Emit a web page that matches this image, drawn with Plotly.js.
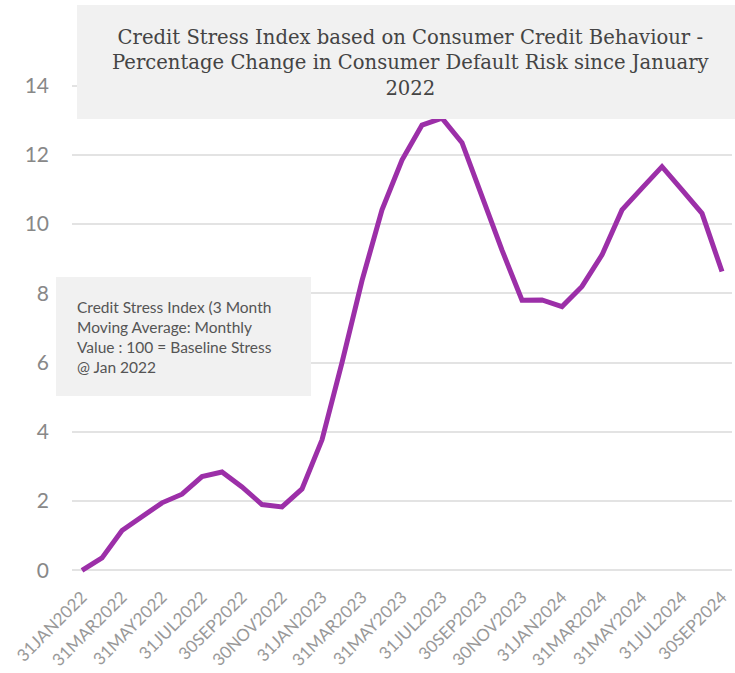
<!DOCTYPE html>
<html>
<head>
<meta charset="utf-8">
<script src="https://cdn.plot.ly/plotly-3.0.1.min.js"></script>
<style>html,body{margin:0;padding:0;background:#fff;}#chart{width:735px;height:673px;}</style>
</head>
<body>
<div id="chart"></div>
<script>
const months = ["31JAN2022","28FEB2022","31MAR2022","30APR2022","31MAY2022","30JUN2022","31JUL2022","31AUG2022","30SEP2022","31OCT2022","30NOV2022","31DEC2022",
"31JAN2023","28FEB2023","31MAR2023","30APR2023","31MAY2023","30JUN2023","31JUL2023","31AUG2023","30SEP2023","31OCT2023","30NOV2023","31DEC2023",
"31JAN2024","29FEB2024","31MAR2024","30APR2024","31MAY2024","30JUN2024","31JUL2024","31AUG2024","30SEP2024"];
const stressChange = [0, 0.36, 1.15, 1.56, 1.95, 2.2, 2.71, 2.84, 2.41, 1.9, 1.83, 2.35,
3.77, 6.0, 8.37, 10.41, 11.85, 12.86, 13.06, 12.35, 10.75, 9.25, 7.8, 7.81,
7.62, 8.2, 9.11, 10.41, 11.04, 11.66, 10.99, 10.31, 8.63];
const tickLabels = ["31JAN2022","31MAR2022","31MAY2022","31JUL2022","30SEP2022","30NOV2022","31JAN2023","31MAR2023","31MAY2023","31JUL2023","30SEP2023","30NOV2023","31JAN2024","31MAR2024","31MAY2024","31JUL2024","30SEP2024"];
const yTicks = [0,2,4,6,8,10,12,14];
const titleText = "Credit Stress Index based on Consumer Credit Behaviour -<br>Percentage Change in Consumer Default Risk since January<br>2022";
const legendText = "Credit Stress Index (3 Month<br>Moving Average: Monthly<br>Value : 100 = Baseline Stress<br>@ Jan 2022";

const idx = months.map((m,i)=>i);
const tickIdx = tickLabels.map(t=>months.indexOf(t));

const L=72, W=660, T=51, H=528;
const px = x => (x-L)/W;
const py = y => (T+H-y)/H;

const trace = {
  x: idx, y: stressChange, type:'scatter', mode:'lines',
  line:{color:'#9c2fa8', width:5}, hoverinfo:'skip', cliponaxis:false
};
const layout = {
  width:735, height:673,
  margin:{l:L, r:735-L-W, t:T, b:673-T-H},
  paper_bgcolor:'#fff', plot_bgcolor:'#fff',
  showlegend:false,
  font:{family:'Lato, "Open Sans", sans-serif'},
  xaxis:{range:[-0.5,32.5], tickvals:tickIdx, ticktext:tickLabels, tickangle:-45,
    showgrid:false, zeroline:false, showline:false, ticks:'', ticklabelstandoff:4,
    tickfont:{size:17, color:'#999', family:'Lato, sans-serif'}},
  yaxis:{range:[-0.25,15], tickvals:yTicks, showgrid:true, gridcolor:'#e3e3e3', gridwidth:2,
    zeroline:false, showline:false, ticks:'', ticklabelstandoff:22,
    tickfont:{size:21, color:'#888', family:'Lato, sans-serif'}},
  shapes:[
    {type:'rect', xref:'paper', yref:'paper', x0:px(77), x1:px(745), y0:py(5), y1:py(119),
     fillcolor:'#f1f1f1', line:{width:0}, layer:'above'},
    {type:'rect', xref:'paper', yref:'paper', x0:px(56), x1:px(311), y0:py(277), y1:py(396),
     fillcolor:'#f1f1f1', line:{width:0}, layer:'above'}
  ],
  annotations:[
    {xref:'paper', yref:'paper', x:px(411), y:py(63), xanchor:'center', yanchor:'middle',
     text:titleText, showarrow:false, align:'center',
     font:{family:'"DejaVu Serif", serif', size:19.6, color:'#444'}},
    {xref:'paper', yref:'paper', x:px(75), y:py(337), xanchor:'left', yanchor:'middle',
     text:legendText, showarrow:false, align:'left',
     font:{family:'Lato, sans-serif', size:15.5, color:'#555'}}
  ]
};
Plotly.newPlot('chart',[trace],layout,{displayModeBar:false, staticPlot:true});
</script>
</body>
</html>
